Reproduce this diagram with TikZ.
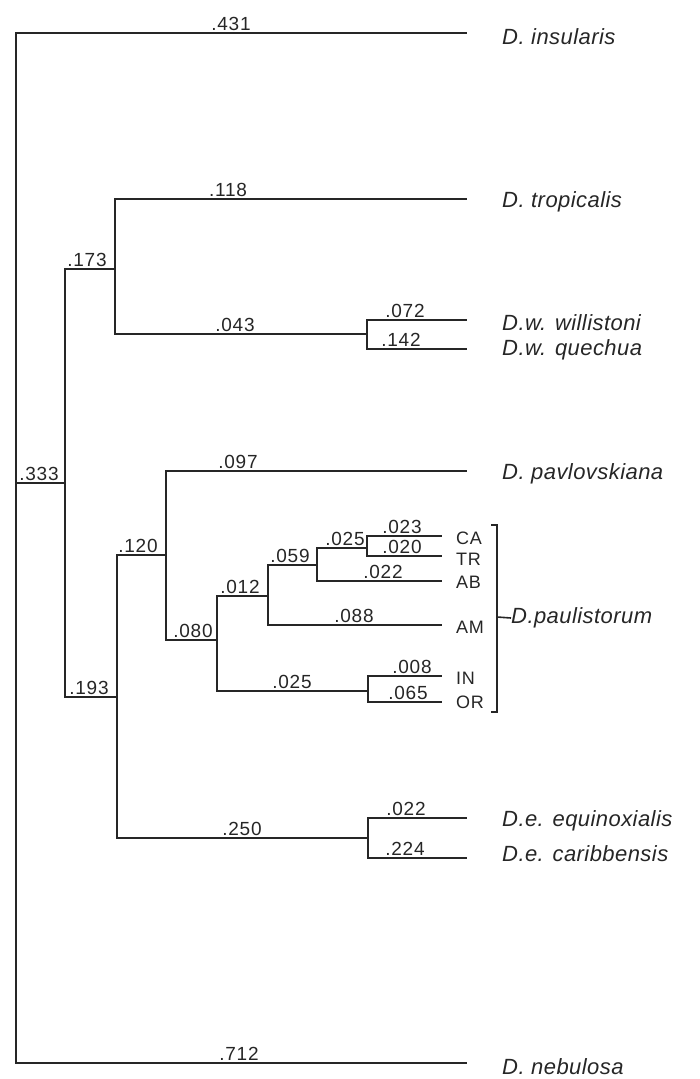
\documentclass[tikz,border=0pt]{standalone}
\usepackage{fontspec}
\setmainfont{Liberation Sans}
\newfontfamily\spfont[LetterSpace=2]{Liberation Sans}
\newfontfamily\numfont[LetterSpace=4]{Liberation Sans}
\begin{document}
\begin{tikzpicture}[x=1pt,y=-1pt,
  br/.style={line width=2pt, draw=black!85},
  num/.style={font=\numfont\fontsize{19}{22}\selectfont, anchor=base, inner sep=0pt, text=black!85},
  sp/.style={font=\spfont\itshape\fontsize{22}{26}\selectfont, anchor=west, inner sep=0pt, text=black!85},
  code/.style={font=\numfont\fontsize{18}{21}\selectfont, anchor=west, inner sep=0pt, text=black!85}]
\useasboundingbox (0,0) rectangle (699,1079);
% junctions
\coordinate (r) at (16,483);
\coordinate (n1) at (65,483);
\coordinate (n2) at (115,269);
\coordinate (n3) at (367,334);
\coordinate (n4) at (117,697);
\coordinate (n5) at (166,555);
\coordinate (n6) at (217,640);
\coordinate (n7) at (268,596);
\coordinate (n8) at (317,565);
\coordinate (n9) at (367,548);
\coordinate (n10) at (368,691);
\coordinate (n11) at (368,838);
% tips
\coordinate (tins) at (467,33);
\coordinate (ttro) at (467,199);
\coordinate (twil) at (467,320);
\coordinate (tque) at (467,349);
\coordinate (tpav) at (467,471);
\coordinate (tCA) at (442,536);
\coordinate (tTR) at (442,556);
\coordinate (tAB) at (442,581);
\coordinate (tAM) at (442,625);
\coordinate (tIN) at (442,676);
\coordinate (tOR) at (442,702);
\coordinate (tequ) at (467,818);
\coordinate (tcar) at (467,858);
\coordinate (tneb) at (467,1063);
% edges
\draw[br] (r) |- (tins);
\draw[br] (r) |- (n1);
\draw[br] (r) |- (tneb);
\draw[br] (n1) |- (n2);
\draw[br] (n1) |- (n4);
\draw[br] (n2) |- (ttro);
\draw[br] (n2) |- (n3);
\draw[br] (n3) |- (twil);
\draw[br] (n3) |- (tque);
\draw[br] (n4) |- (n5);
\draw[br] (n4) |- (n11);
\draw[br] (n5) |- (tpav);
\draw[br] (n5) |- (n6);
\draw[br] (n6) |- (n7);
\draw[br] (n6) |- (n10);
\draw[br] (n7) |- (n8);
\draw[br] (n7) |- (tAM);
\draw[br] (n8) |- (n9);
\draw[br] (n8) |- (tAB);
\draw[br] (n9) |- (tCA);
\draw[br] (n9) |- (tTR);
\draw[br] (n10) |- (tIN);
\draw[br] (n10) |- (tOR);
\draw[br] (n11) |- (tequ);
\draw[br] (n11) |- (tcar);
% branch lengths
\node[num] (l431) at (231,30) {.431};
\node[num] (l118) at (228,196) {.118};
\node[num] (l173) at (87,266) {.173};
\node[num] (l043) at (235,331) {.043};
\node[num] (l072) at (405,317) {.072};
\node[num] (l142) at (401,346) {.142};
\node[num] (l333) at (39,480) {.333};
\node[num] (l097) at (238,468) {.097};
\node[num] (l120) at (138,552) {.120};
\node[num] (l193) at (89,694) {.193};
\node[num] (l080) at (193,637) {.080};
\node[num] (l012) at (240,593) {.012};
\node[num] (l059) at (290,562) {.059};
\node[num] (l025a) at (345,545) {.025};
\node[num] (l023) at (402,533) {.023};
\node[num] (l020) at (402,553) {.020};
\node[num] (l022a) at (383,578) {.022};
\node[num] (l088) at (354,622) {.088};
\node[num] (l025b) at (292,688) {.025};
\node[num] (l008) at (412,673) {.008};
\node[num] (l065) at (408,699) {.065};
\node[num] (l250) at (242,835) {.250};
\node[num] (l022b) at (406,815) {.022};
\node[num] (l224) at (405,855) {.224};
\node[num] (l712) at (239,1060) {.712};
% species labels
\node[sp] (sins) at (502,37) {D. insularis};
\node[sp] (stro) at (502,202) {D. tropicalis};
\node[sp] (swil) at (502,323) {D.w. willistoni};
\node[sp] (sque) at (502,350) {D.w. quechua};
\node[sp] (spav) at (502,474) {D. pavlovskiana};
\node[sp] (sequ) at (502,821) {D.e. equinoxialis};
\node[sp] (scar) at (502,854) {D.e. caribbensis};
\node[sp] (sneb) at (502,1067) {D. nebulosa};
% paulistorum codes
\node[code] (cCA) at (456,538) {CA};
\node[code] (cTR) at (456,559) {TR};
\node[code] (cAB) at (456,582) {AB};
\node[code] (cAM) at (456,627) {AM};
\node[code] (cIN) at (456,678) {IN};
\node[code] (cOR) at (456,702) {OR};
% bracket
\coordinate (bt0) at (491,525);
\coordinate (bt) at (497,525);
\coordinate (bb) at (497,712);
\coordinate (bb0) at (491,712);
\coordinate (bm) at (497,617);
\draw[line width=1.6pt, draw=black!85] (bt0) -- (bt) -- (bb) -- (bb0);
\node[sp] (spau) at (511,618) {D.paulistorum};
\draw[line width=1.6pt, draw=black!85] (bm) -- (spau.west);
\end{tikzpicture}
\end{document}
